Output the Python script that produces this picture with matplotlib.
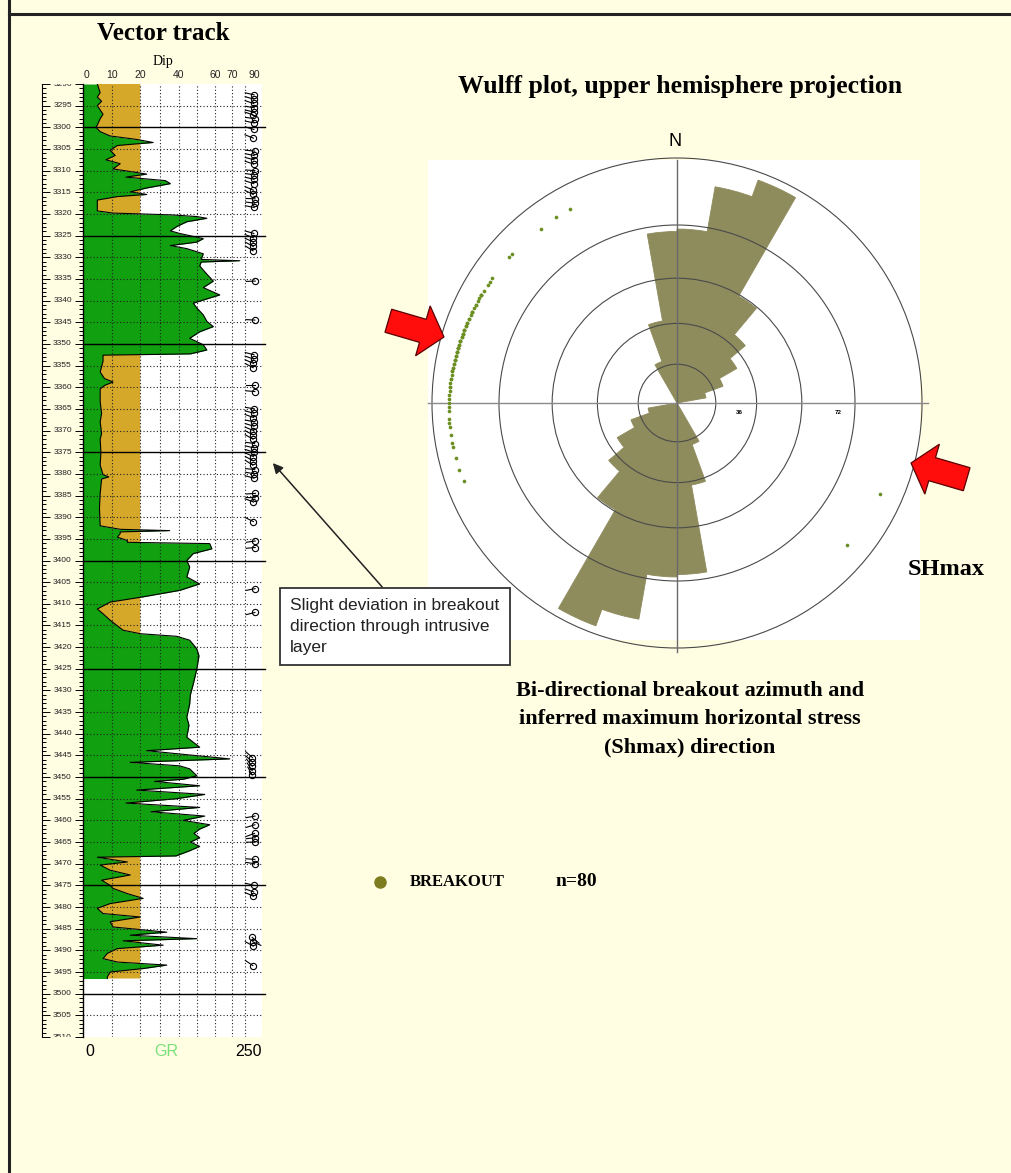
import numpy as np
import matplotlib.pyplot as plt
from matplotlib.patches import Wedge, Circle, Rectangle, Polygon, FancyArrowPatch

W, H = 1012, 1173
BG = '#fffde2'
SERIF = 'Liberation Serif'
SANS = 'Liberation Sans'

# gamma ray log: depth (m) and GR (API)
gr_depth = [3290, 3291, 3292, 3293, 3294, 3295, 3296, 3297, 3298, 3299.5, 3300, 3301, 3302,
            3302.8, 3303.5, 3304.2, 3305.3, 3306.5, 3307.5, 3308.4, 3309.6, 3310.8, 3311.5,
            3312.3, 3313, 3314, 3314.9, 3315.5, 3316, 3316.8, 3319.3, 3319.8, 3320.2, 3320.6,
            3321, 3321.8, 3322.9, 3323.9, 3324.5, 3325.7, 3326.5, 3327.3, 3328, 3329.2, 3330.5,
            3330.8, 3331.1, 3332, 3333.9, 3335.5, 3337, 3338.7, 3339.4, 3340.6, 3341.7, 3343.3,
            3344.8, 3346, 3347.2, 3348.7, 3350.2, 3351.4, 3352.3, 3352.6, 3354, 3356.5, 3358,
            3358.8, 3359.6, 3360.4, 3363.4, 3366, 3368, 3370.7, 3372, 3375, 3378, 3380.2, 3380.7,
            3381.2, 3384.5, 3388, 3392, 3392.8, 3393.1, 3393.4, 3393.8, 3394.6, 3395.4, 3395.8,
            3396.1, 3397.3, 3398.4, 3400, 3401.5, 3403.8, 3405.4, 3406.9, 3408.5, 3409.6, 3411.2,
            3412.3, 3413.8, 3416.1, 3416.9, 3417.5, 3418.4, 3420.4, 3422, 3425, 3428.5, 3431,
            3433.1, 3436.2, 3438, 3440.8, 3443.1, 3443.9, 3444.6, 3445.8, 3446.3, 3446.6, 3447.4,
            3448.1, 3449.7, 3450.5, 3451, 3452, 3453, 3454, 3455, 3456, 3457, 3458, 3459, 3460,
            3461, 3462, 3463, 3464, 3465, 3466, 3467, 3468.2, 3468.5, 3469.6, 3470.3, 3471.5,
            3472.6, 3473.8, 3475, 3475.7, 3476.9, 3478, 3479.2, 3480.3, 3481.5, 3482.3, 3483.4,
            3484.6, 3485.8, 3486.5, 3487.3, 3487.8, 3488.8, 3489.6, 3490.7, 3491.9, 3492.7,
            3493.4, 3494.2, 3495, 3496.1, 3496.5]
gr_value = [20, 22, 24, 20, 26, 20, 24, 28, 24, 20, 18, 24, 38,
            75, 98, 48, 38, 45, 32, 52, 42, 89, 60,
            115, 122, 89, 66, 89, 48, 20, 20, 42, 122, 159,
            173, 145, 131, 122, 135, 168, 159, 122, 145, 168, 165,
            219, 165, 163, 173, 182, 168, 191, 177, 154, 159, 168,
            173, 182, 163, 149, 168, 173, 150, 28, 28, 24, 30,
            42, 30, 24, 24, 26, 24, 26, 24, 25, 24, 28, 36,
            26, 24, 23, 24, 52, 121, 52, 52, 48, 62, 62,
            177, 180, 154, 145, 149, 145, 163, 135, 80, 38, 20,
            28, 38, 56, 80, 131, 149, 159, 162, 159, 154, 150,
            149, 145, 148, 145, 163, 89, 131, 205, 120, 66, 135,
            149, 159, 140, 100, 163, 75, 170, 130, 60, 163, 95, 170, 140,
            177, 163, 155, 163, 150, 163, 149, 130, 20, 62, 24, 38,
            66, 26, 38, 42, 62, 84, 38, 20, 28, 80, 38,
            42, 117, 66, 159, 56, 112, 48, 34, 28, 48,
            117, 84, 38, 34, 34]
gr_cutoff = 80

# breakout picks: depth (m), dip (deg), dip azimuth (deg)
bo_depth = [3292.5, 3293.5, 3294.5, 3295.5, 3296.5, 3297.2, 3298, 3299, 3300.5, 3302.5,
            3305.5, 3306.5, 3307.5, 3308.5, 3310, 3311, 3312, 3313, 3314.5, 3315.5,
            3316.5, 3317.5, 3318.5, 3324.5, 3325.5, 3326.5, 3327.5, 3328.5, 3335.5, 3344.5,
            3352.5, 3353.5, 3354.5, 3355.5, 3359.5, 3361, 3365, 3366, 3367, 3368,
            3369, 3370, 3371, 3372, 3373, 3374, 3375, 3376, 3377, 3378,
            3379, 3380, 3381, 3384.5, 3385.5, 3386.5, 3391, 3395.5, 3397, 3406.5,
            3412, 3445.5, 3446.5, 3447.5, 3448.5, 3449.5, 3459, 3461, 3463, 3464,
            3465, 3469, 3470, 3475, 3476.5, 3477.5, 3487, 3488, 3489, 3493.5]
bo_azi = [283, 286, 288, 280, 284, 290, 278, 282, 287, 292,
          276, 281, 285, 289, 274, 279, 283, 288, 293, 296,
          272, 277, 281, 286, 291, 295, 299, 302, 268, 273,
          284, 289, 294, 298, 270, 275, 280, 285, 290, 282,
          287, 292, 297, 300, 278, 283, 288, 294, 299, 303,
          276, 281, 286, 266, 271, 291, 296, 262, 265, 259,
          256, 311, 312, 322, 327, 331, 260, 253, 250, 264,
          269, 274, 279, 284, 289, 294, 130, 114, 299, 304]
bo_dip = [85.3, 85.2, 85.1, 85.5, 85.3, 85.0, 85.6, 85.4, 85.2, 84.9,
          85.7, 85.4, 85.3, 85.1, 85.8, 85.5, 85.3, 85.1, 84.9, 84.8,
          85.9, 85.6, 85.4, 85.2, 85.0, 84.9, 84.8, 84.7, 86.0, 85.8,
          85.3, 85.1, 84.9, 84.8, 86.0, 85.8, 85.5, 85.2, 85.0, 85.4,
          85.2, 85.0, 84.8, 84.7, 85.6, 85.3, 85.1, 84.9, 84.8, 84.6,
          85.7, 85.4, 85.2, 86.1, 86.0, 85.0, 84.9, 86.0, 86.0, 85.9,
          85.8, 84.4, 84.4, 84.2, 84.2, 84.2, 85.9, 85.8, 85.6, 86.0,
          86.0, 85.8, 85.6, 85.3, 85.1, 84.9, 84.2, 84.5, 84.8, 84.6]

# bi-directional rose of breakout azimuths, 10 degree bins over 0-180
rose_start = np.arange(0, 180, 10)
rose_freq = [35.5, 44.8, 48.4, 25.2, 18.2, 14.1, 10.0, 6.0, 0, 0, 0, 0, 0, 0, 0, 9.0, 17.0, 35.0]
rose_max = 50.0

# dip scale of the vector track (dip -> fraction of track width)
dip_knots = [0, 10, 20, 30, 40, 50, 60, 70, 80, 90]
dip_frac = [0, 0.162, 0.318, 0.430, 0.536, 0.637, 0.737, 0.832, 0.905, 1.0]
dip_labels = [0, 10, 20, 40, 60, 70, 90]
wulff_rings = [18, 36, 54, 72, 90]
GR_MAX = 250
TOP, BASE = 3290, 3510


def fbox(x0, y0, x1, y1):
    return [x0 / W, 1 - y1 / H, (x1 - x0) / W, (y1 - y0) / H]


def fx(x):
    return x / W


def fy(y):
    return 1 - y / H


def dip_to_gr(d):
    return np.interp(d, dip_knots, dip_frac) * GR_MAX


fig = plt.figure(figsize=(W / 100, H / 100), dpi=100, facecolor=BG)

# page frame
fig.add_artist(plt.Line2D([fx(9), 1], [fy(14), fy(14)], color='#222222', lw=2.2))
fig.add_artist(plt.Line2D([fx(9), fx(9)], [0, 1], color='#222222', lw=2.2))

# ---- vector track ----
ax = fig.add_axes(fbox(83, 84, 262, 1037))
ax.set_facecolor('white')
ax.set_xlim(0, GR_MAX)
ax.set_ylim(BASE, TOP)
for s in ['top', 'right', 'bottom']:
    ax.spines[s].set_visible(False)
ax.spines['left'].set_linewidth(1.0)
ax.set_xticks([])
ax.set_yticks([])

d = np.array(gr_depth)
g = np.array(gr_value, dtype=float)
ax.fill_betweenx(d, 0, g, color='#10a010', lw=0, zorder=2)
ax.fill_betweenx(d, g, gr_cutoff, where=g < gr_cutoff, interpolate=True,
                 color='#d6a82a', lw=0, zorder=2)
ax.plot(g, d, color='black', lw=0.8, zorder=3)

for dp in range(3295, 3510, 5):
    if dp % 25:
        ax.axhline(dp, color='#222222', lw=0.8, ls=(0, (1, 2)), zorder=4)
for dp in range(3300, 3510, 25):
    ax.plot([0, GR_MAX * 1.015], [dp, dp], color='black', lw=1.0, zorder=5, clip_on=False)
for dv in dip_knots[1:-1]:
    ax.axvline(dip_to_gr(dv), color='#222222', lw=0.8, ls=(0, (1, 2)), zorder=4)

# tadpoles: head at dip, tail toward dip azimuth
px_x = 179 / GR_MAX
px_y = 953 / (BASE - TOP)
tail = 9
for dep, dip, az in zip(bo_depth, bo_dip, bo_azi):
    x0 = dip_to_gr(dip)
    a = np.radians(az)
    ax.plot([x0, x0 + tail * np.sin(a) / px_x], [dep, dep - tail * np.cos(a) / px_y],
            color='black', lw=0.8, zorder=6, clip_on=False)
    ax.plot(x0, dep, 'o', ms=4.5, mfc='none', mec='black', mew=0.8, zorder=6, clip_on=False)

# depth column
axd = fig.add_axes(fbox(42, 84, 83, 1037))
axd.patch.set_alpha(0)
axd.set_xlim(0, 1)
axd.set_ylim(BASE, TOP)
for s in ['top', 'bottom', 'right']:
    axd.spines[s].set_visible(False)
axd.set_xticks([])
axd.set_yticks(np.arange(3290, 3511, 5))
axd.set_yticks(np.arange(3290, 3511, 1), minor=True)
axd.tick_params(axis='y', which='both', left=True, right=True, direction='in',
                labelleft=False, width=0.7)
axd.tick_params(axis='y', which='major', length=6)
axd.tick_params(axis='y', which='minor', length=3)
for dp in range(3290, 3511, 5):
    axd.text(0.5, dp, str(dp), ha='center', va='center', fontsize=6, family=SANS,
             color='#222222', clip_on=True)

# headers
fig.text(fx(163), fy(33), 'Vector track', ha='center', va='center', family=SERIF,
         fontweight='bold', fontsize=18)
fig.text(fx(163), fy(61), 'Dip', ha='center', va='center', family=SERIF, fontsize=10)
for dv in dip_labels:
    xp = 83 + dip_to_gr(dv) * px_x
    ha = 'left' if dv == 0 else ('right' if dv == 90 else 'center')
    fig.text(fx(xp + (1 if dv == 0 else (-2 if dv == 90 else 0))), fy(75), str(dv),
             ha=ha, va='center', family=SANS, fontsize=7.5, color='#222222')
fig.text(fx(90), fy(1051), '0', ha='center', va='center', family=SANS, fontsize=11.5)
fig.text(fx(166), fy(1051), 'GR', ha='center', va='center', family=SANS, fontsize=11.5,
         color='#7be07b')
fig.text(fx(249), fy(1051), '250', ha='center', va='center', family=SANS, fontsize=11.5)

# ---- Wulff net with rose ----
CX, CY, R = 677, 403, 245
half = 262
axw = fig.add_axes(fbox(CX - half, CY - half, CX + half, CY + half))
lim = half / R
axw.set_xlim(-lim, lim)
axw.set_ylim(-lim, lim)
axw.set_aspect('equal')
axw.axis('off')
axw.add_patch(Rectangle(((428 - CX) / R, -(640 - CY) / R), (920 - 428) / R, (640 - 160) / R,
                        facecolor='white', edgecolor='none', zorder=0))

ROSE = '#8e8b5d'
for st, fr in zip(rose_start, rose_freq):
    if fr <= 0:
        continue
    rr = fr / rose_max
    for base in (st, st + 180):
        axw.add_patch(Wedge((0, 0), rr, 90 - base - 10, 90 - base,
                            facecolor=ROSE, edgecolor=ROSE, lw=0.6, zorder=1))

for dring in wulff_rings:
    axw.add_patch(Circle((0, 0), np.tan(np.radians(dring) / 2), fill=False,
                         edgecolor='#4a4a4a', lw=0.8, zorder=2))
axw.plot([(428 - CX) / R, (928 - CX) / R], [0, 0], color='#8a8a8a', lw=1.0, zorder=2)
axw.plot([0, 0], [(CY - 160) / R, -(652 - CY) / R], color='#6a6a6a', lw=1.0, zorder=2)
for dring in (36, 72):
    axw.text(np.tan(np.radians(dring) / 2) - 0.07, -0.03, str(dring), fontsize=4.5,
             family=SANS, fontweight='bold', ha='center', va='top')

rb = np.tan(np.radians(np.array(bo_dip)) / 2)
ab = np.radians(np.array(bo_azi))
axw.scatter(rb * np.sin(ab), rb * np.cos(ab), s=7, color='#6c8f22', zorder=3, lw=0)

fig.text(fx(680), fy(86), 'Wulff plot, upper hemisphere projection', ha='center', va='center',
         family=SERIF, fontweight='bold', fontsize=18.5)
fig.text(fx(675), fy(142), 'N', ha='center', va='center', family=SANS, fontsize=13)
fig.text(fx(946), fy(570), 'SHmax', ha='center', va='center', family=SERIF,
         fontweight='bold', fontsize=17.5)
for i, line in enumerate(['Bi-directional breakout azimuth and',
                          'inferred maximum horizontal stress', '(Shmax) direction']):
    fig.text(fx(690), fy(691 + 28 * i), line, ha='center', va='center', family=SERIF,
             fontweight='bold', fontsize=16)


# red SHmax arrows
def block_arrow(tip, direc, length=58, body=24, head=52, head_len=22):
    tx, ty = tip
    ux, uy = direc / np.hypot(*direc)
    nx, ny = -uy, ux
    bx, by = tx - ux * head_len, ty - uy * head_len
    ex, ey = tx - ux * length, ty - uy * length
    pts = [(tx, ty), (bx + nx * head / 2, by + ny * head / 2), (bx + nx * body / 2, by + ny * body / 2),
           (ex + nx * body / 2, ey + ny * body / 2), (ex - nx * body / 2, ey - ny * body / 2),
           (bx - nx * body / 2, by - ny * body / 2), (bx - nx * head / 2, by - ny * head / 2)]
    pts = [(fx(px), fy(py)) for px, py in pts]
    fig.add_artist(Polygon(pts, closed=True, transform=fig.transFigure, facecolor='#ff0c0c',
                           edgecolor='#5a0000', lw=0.9, zorder=10))


block_arrow((444, 337), np.array([0.96, 0.28]))
block_arrow((911, 463), np.array([-0.96, -0.28]))

# annotation box
fig.text(fx(290), fy(598), 'Slight deviation in breakout\ndirection through intrusive\nlayer',
         ha='left', va='top', family=SANS, fontsize=12.5, color='#222222', linespacing=1.5,
         bbox=dict(boxstyle='square,pad=0.6', facecolor='white', edgecolor='#333333', lw=1.3))
fig.add_artist(FancyArrowPatch((fx(384), fy(589)), (fx(271), fy(461)),
                               transform=fig.transFigure, arrowstyle='-|>,head_length=6,head_width=3',
                               color='#222222', lw=1.1, zorder=10))

# legend
fig.add_artist(plt.Line2D([fx(380)], [fy(882)], marker='o', ms=8, color='#7d7c1e', ls=''))
fig.text(fx(410), fy(882), 'BREAKOUT', ha='left', va='center', family=SERIF,
         fontweight='bold', fontsize=12)
fig.text(fx(555), fy(882), 'n=80', ha='left', va='center', family=SERIF,
         fontweight='bold', fontsize=14)

fig.savefig('out.png', dpi=100, facecolor=BG)
